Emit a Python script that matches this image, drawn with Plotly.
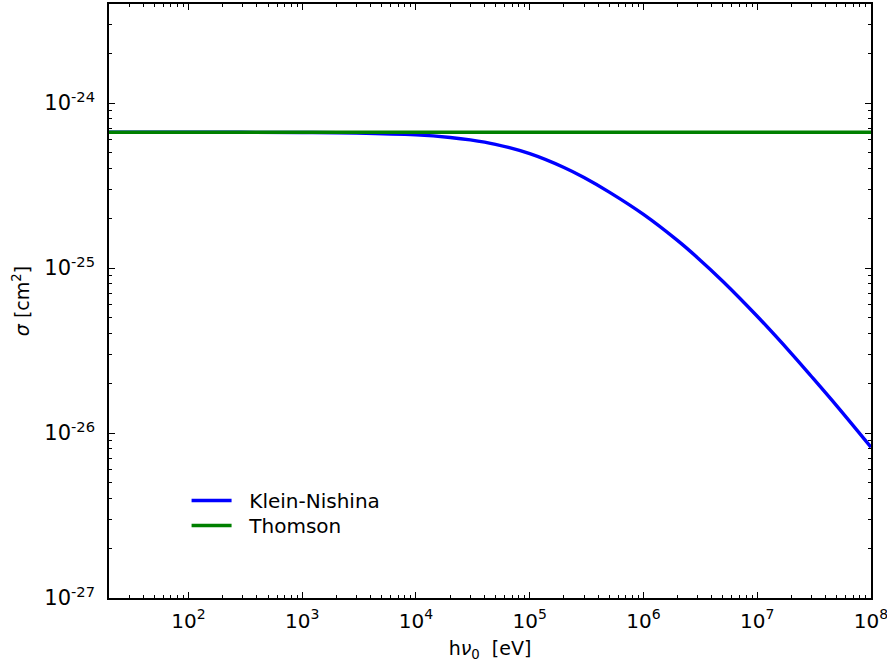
import plotly.graph_objects as go

# Photon energy [eV] and cross sections [cm^2]
energy_ev = [20, 1e2, 1e3, 3e3, 1e4, 2e4, 3e4, 5e4, 1e5, 2e5, 3e5, 5e5,
             1e6, 2e6, 3e6, 5e6, 1e7, 2e7, 3e7, 5e7, 1e8]
klein_nishina = [6.652e-25, 6.651e-25, 6.626e-25, 6.575e-25, 6.405e-25, 6.18e-25,
                 5.975e-25, 5.616e-25, 4.927e-25, 4.065e-25, 3.535e-25, 2.883e-25,
                 2.112e-25, 1.464e-25, 1.151e-25, 8.29e-26, 5.10e-26, 3.03e-26,
                 2.20e-26, 1.46e-26, 8.2e-27]
thomson_energy = [20, 1e8]
thomson = [6.652e-25, 6.652e-25]

x_tick_vals = [1e2, 1e3, 1e4, 1e5, 1e6, 1e7, 1e8]
x_tick_text = ["10<sup>2</sup>", "10<sup>3</sup>", "10<sup>4</sup>", "10<sup>5</sup>",
               "10<sup>6</sup>", "10<sup>7</sup>", "10<sup>8</sup>"]
y_tick_vals = [1e-27, 1e-26, 1e-25, 1e-24]
y_tick_text = ["10<sup>-27</sup>", "10<sup>-26</sup>", "10<sup>-25</sup>", "10<sup>-24</sup>"]

x_minor = [m * 10 ** d for d in range(1, 8) for m in range(2, 10) if 20 <= m * 10 ** d <= 1e8]
y_minor = [m * 10.0 ** d for d in range(-27, -23) for m in range(2, 10) if m * 10.0 ** d <= 4e-24]

fig = go.Figure()
fig.add_trace(go.Scatter(x=energy_ev, y=klein_nishina, mode="lines",
                         name="\u00a0\u00a0Klein-Nishina", legend="legend",
                         line=dict(color="#0000ff", width=3.4, shape="spline")))
fig.add_trace(go.Scatter(x=thomson_energy, y=thomson, mode="lines",
                         name="\u00a0\u00a0Thomson", legend="legend2",
                         line=dict(color="#008000", width=3.4)))

font = "DejaVu Sans"
axis_common = dict(
    showline=True, linecolor="black", linewidth=1.5, mirror="ticks",
    ticks="inside", ticklen=6, tickwidth=1, tickcolor="black",
    showgrid=False, zeroline=False, ticklabeloverflow="allow", automargin=False,
)

fig.update_xaxes(type="log", range=[1.301, 8.0003], tickmode="array",
                 tickvals=x_tick_vals, ticktext=x_tick_text,
                 tickfont=dict(family=font, size=20, color="black"),
                 minor=dict(tickmode="array", tickvals=x_minor, ticks="inside",
                            ticklen=3, tickcolor="black", showgrid=False),
                 ticklabelstandoff=4,
                 title=dict(text="h<i>ν</i><sub>0</sub>  [eV]", standoff=10,
                            font=dict(family=font, size=19, color="black")),
                 **axis_common)
fig.update_yaxes(type="log", range=[-27.0, -23.4], tickmode="array",
                 tickvals=y_tick_vals, ticktext=y_tick_text,
                 tickfont=dict(family=font, size=21, color="black"),
                 minor=dict(tickmode="array", tickvals=y_minor, ticks="inside",
                            ticklen=3, tickcolor="black", showgrid=False),
                 ticklabelstandoff=8,
                 title=dict(text="<i>σ</i> [cm<sup>2</sup>]", standoff=10,
                            font=dict(family=font, size=19, color="black")),
                 **axis_common)

legend_common = dict(xanchor="left", yanchor="top", bgcolor="rgba(0,0,0,0)",
                     borderwidth=0, itemwidth=40,
                     font=dict(family=font, size=20, color="black"))

fig.update_layout(
    width=887, height=666,
    margin=dict(l=109, r=16, t=4, b=68),
    paper_bgcolor="white", plot_bgcolor="white",
    showlegend=True,
    legend=dict(x=0.1018, y=0.197, **legend_common),
    legend2=dict(x=0.1018, y=0.155, **legend_common),
)

fig.write_html("out.html", config={"displayModeBar": False},
               post_script="document.body.style.margin='0';")
